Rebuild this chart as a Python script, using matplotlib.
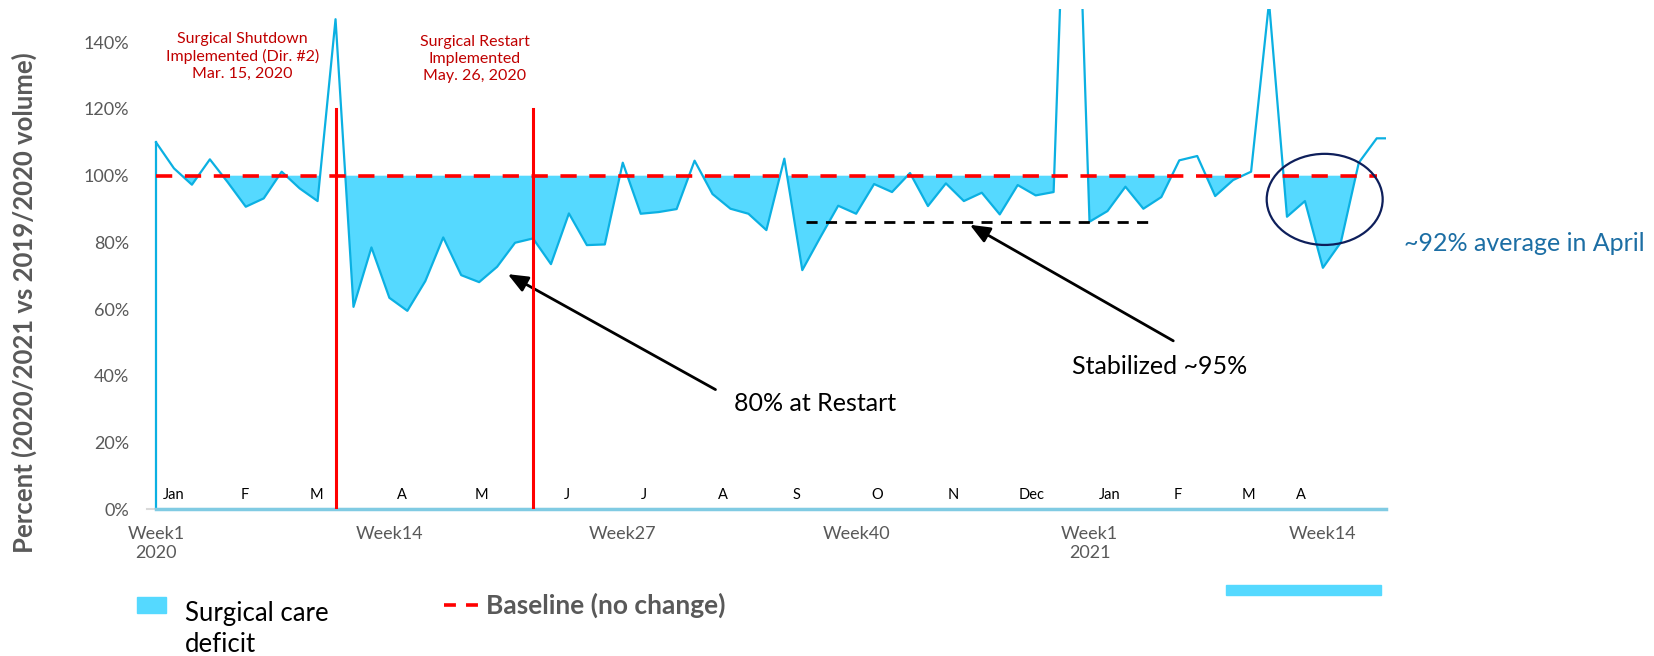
import numpy as np
import matplotlib.pyplot as plt
from matplotlib.patches import Ellipse, Rectangle
from matplotlib.lines import Line2D

plt.rcParams['font.family'] = ['Lato', 'DejaVu Sans']

# weekly surgical volume, percent of the previous year (Week1 2020 .. Week17 2021)
weeks = np.arange(1, 71)
values = [110, 102.2, 97.3, 104.9, 98, 90.7, 93.2, 101.2, 96.2, 92.4,
          146.9, 60.7, 78.5, 63.4, 59.5, 68.4, 81.5, 70.2, 68.1, 72.7,
          79.9, 81.2, 73.5, 88.7, 79.2, 79.4, 103.9, 88.6, 89.1, 90.0,
          104.5, 94.5, 90.1, 88.6, 83.7, 105.1, 71.7, 81.5, 91.0, 88.6,
          97.5, 95.1, 100.8, 90.9, 97.7, 92.4, 94.9, 88.4, 97.2, 94.1,
          95.1, 250, 86.2, 89.4, 96.7, 90.1, 93.6, 104.6, 105.9, 93.9,
          98.7, 101.2, 152, 87.7, 92.4, 72.4, 80, 103.9, 111.2, 111.2]
values = np.array(values)
baseline = 100

tick_pos = [1, 14, 27, 40, 53, 66]
tick_labels = ['Week1\n2020', 'Week14', 'Week27', 'Week40', 'Week1\n2021', 'Week14']

month_pos = [2.0, 5.95, 9.95, 14.67, 19.1, 23.9, 28.2, 32.6, 36.7, 41.2,
             45.4, 49.8, 54.1, 57.9, 61.85, 64.8]
month_labels = ['Jan', 'F', 'M', 'A', 'M', 'J', 'J', 'A', 'S', 'O',
                'N', 'Dec', 'Jan', 'F', 'M', 'A']

shutdown_week = 11
restart_week = 22

line_col = '#0BB0E2'
fill_col = '#55D9FF'
gray = '#595959'
x_lo, x_hi = 0.5, 69.5

fig = plt.figure(figsize=(16.54, 6.56), dpi=100)
ax = fig.add_axes([0.0889, 0.2235, 0.7489, 0.763])

ax.fill_between(weeks, values, baseline, where=values < baseline,
                interpolate=True, color=fill_col, lw=0, zorder=1)
ax.plot(weeks, values, color=line_col, lw=1.6, zorder=3)
ax.plot([weeks[0], weeks[0]], [0, values[0]], color=line_col, lw=1.6, zorder=3)
ax.plot([weeks[0], x_hi], [0, 0], color='#80CBE3', lw=2.5, zorder=3, clip_on=False)
ax.plot(weeks[:-1], [baseline] * (len(weeks) - 1), color='#FF0000', lw=2.6,
        dashes=(4.5, 3.5), zorder=4)

for wk in (shutdown_week, restart_week):
    ax.plot([wk, wk], [0, 120], color='#FF0000', lw=2.2, zorder=5)

ax.text(5.83, 135.7, 'Surgical Shutdown\nImplemented (Dir. #2)\nMar. 15, 2020',
        color='#C00000', fontsize=11.5, ha='center', va='center', linespacing=1.25)
ax.text(18.77, 135, 'Surgical Restart\nImplemented\nMay. 26, 2020',
        color='#C00000', fontsize=11.5, ha='center', va='center', linespacing=1.25)

for p, m in zip(month_pos, month_labels):
    ax.text(p, 4.3, m, fontsize=10.5, ha='center', va='center', color='black', zorder=6)

# stabilized reference line and annotations
ax.plot([37.2, 56.7], [86, 86], color='black', lw=2, dashes=(4, 3), zorder=4)
ax.annotate('', xy=(20.46, 70.9), xytext=(32.3, 35.5),
            arrowprops=dict(arrowstyle='-|>,head_length=1.2,head_width=0.5',
                            color='black', lw=2))
ax.text(37.7, 31.6, '80% at Restart', fontsize=18, ha='center', va='center')
ax.annotate('', xy=(46.2, 85.7), xytext=(57.8, 50.1),
            arrowprops=dict(arrowstyle='-|>,head_length=1.2,head_width=0.5',
                            color='black', lw=2))
ax.text(56.9, 42.7, 'Stabilized ~95%', fontsize=18, ha='center', va='center')

ax.add_patch(Ellipse((66.1, 92.9), 6.46, 27.3, fill=False, ec='#0E1F5B', lw=1.6, zorder=6))
ax.text(70.5, 79.8, '~92% average in April', fontsize=18, color='#1C6EA4',
        ha='left', va='center', clip_on=False)

ax.set_xlim(x_lo, x_hi)
ax.set_ylim(0, 150)
ax.set_yticks(np.arange(0, 141, 20))
ax.set_yticklabels(['%d%%' % v for v in np.arange(0, 141, 20)])
ax.set_xticks(tick_pos)
ax.set_xticklabels(tick_labels)
ax.tick_params(axis='y', length=0, pad=13, labelsize=13, labelcolor=gray)
ax.tick_params(axis='x', length=0, pad=12, labelsize=13, labelcolor=gray)
for s in ('top', 'right', 'left'):
    ax.spines[s].set_visible(False)
ax.spines['bottom'].set_color('#D9D9D9')
ax.spines['bottom'].set_linewidth(1.5)

ax.set_ylabel('Percent (2020/2021 vs 2019/2020 volume)', fontsize=18.5,
              fontweight='bold', color=gray)
ax.yaxis.set_label_coords(-0.0885, 0.413)

# legend drawn by hand at the bottom
fig.patches.append(Rectangle((0.0828, 0.0655), 0.0175, 0.0244,
                             transform=fig.transFigure, color=fill_col))
fig.text(0.1119, 0.0412, 'Surgical care\ndeficit', fontsize=18.5, va='center',
         ha='left', linespacing=1.3)
fig.lines.append(Line2D([0.2684, 0.2894], [0.0777, 0.0777], transform=fig.transFigure,
                        color='#FF0000', lw=2.6, dashes=(3.3, 2.8)))
fig.text(0.2937, 0.0777, 'Baseline (no change)', fontsize=19, fontweight='bold',
         color=gray, va='center', ha='left')
fig.patches.append(Rectangle((0.7412, 0.093), 0.0937, 0.0152,
                             transform=fig.transFigure, color=fill_col))

plt.savefig('out.png', dpi=100)
